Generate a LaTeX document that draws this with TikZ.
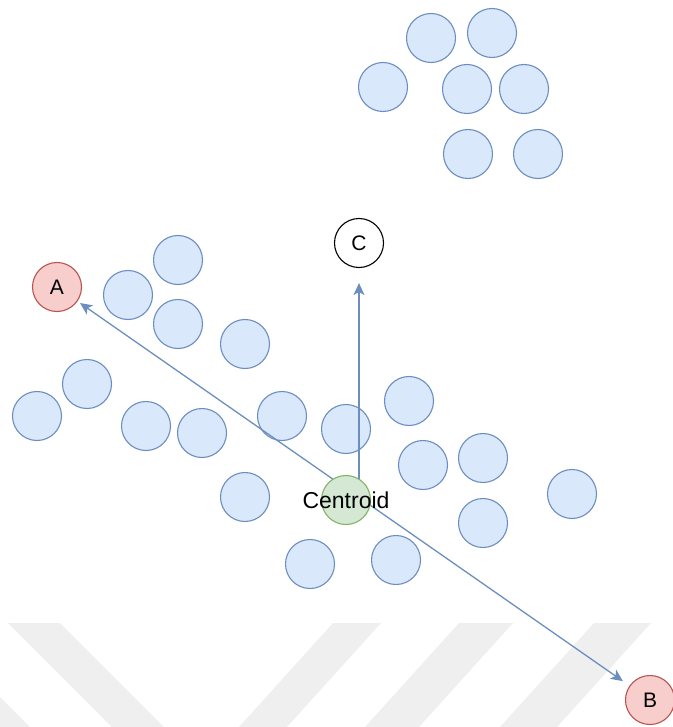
\documentclass[tikz,border=0pt]{standalone}
\usepackage{fontspec}
\setmainfont{Liberation Sans}
\usepackage{tikz}
\usetikzlibrary{arrows.meta}
\definecolor{DotFill}{HTML}{DAE8FC}
\definecolor{DotLine}{HTML}{6C8EBF}
\definecolor{EndFill}{HTML}{F8CECC}
\definecolor{EndLine}{HTML}{B85450}
\definecolor{CenFill}{HTML}{D5E8D4}
\definecolor{CenLine}{HTML}{82B366}
\definecolor{MarkGray}{HTML}{EFEFEF}
\pgfdeclarelayer{front}
\pgfsetlayers{main,front}

\begin{document}
\begin{tikzpicture}[
 x=1pt,y=-1pt,
 >={Stealth[length=12pt,width=11pt,inset=3pt]},
 blob/.style={circle,draw=DotLine,fill=DotFill,line width=1.1pt,minimum size=49pt,inner sep=0pt},
 endpt/.style={blob,draw=EndLine,fill=EndFill,font=\fontsize{21}{24}\selectfont},
 aim/.style={blob,draw=black,fill=white,font=\fontsize{21}{24}\selectfont},
 midpt/.style={blob,draw=CenLine,fill=CenFill},
 arrow/.style={->,line width=1.3pt,color=DotLine}
]
\useasboundingbox (0,0) rectangle (672,727);
\fill[MarkGray] (8,623) -- (60,623) -- (164,727) -- (112,727) -- cycle;
\fill[MarkGray] (0,697) -- (30,727) -- (0,727) -- cycle;
\fill[MarkGray] (333,623) -- (381,623) -- (287,727) -- (239,727) -- cycle;
\fill[MarkGray] (459,623) -- (513,623) -- (419,727) -- (365,727) -- cycle;
\fill[MarkGray] (594,623) -- (651,623) -- (557,727) -- (500,727) -- cycle;
\node[blob] (t1) at (431,38) {}; \node[blob] (t2) at (492,33) {}; \node[blob] (t3) at (383,87) {};
\node[blob] (t4) at (467,89) {}; \node[blob] (t5) at (524,89) {};
\node[blob] (t6) at (468,154) {}; \node[blob] (t7) at (538,154) {};
\node[blob] (p1) at (178,260) {}; \node[blob] (p2) at (128,295) {}; \node[blob] (p3) at (178,324) {};
\node[blob] (p4) at (245,344) {}; \node[blob] (p5) at (87,384) {}; \node[blob] (p6) at (37,416) {};
\node[blob] (p7) at (146,426) {}; \node[blob] (p8) at (202,433) {}; \node[blob] (p9) at (282,416) {};
\node[blob] (p10) at (346,429) {}; \node[blob] (p11) at (409,401) {}; \node[blob] (p12) at (423,465) {};
\node[blob] (p13) at (483,458) {}; \node[blob] (p14) at (483,523) {}; \node[blob] (p15) at (572,494) {};
\node[blob] (p16) at (245,497) {}; \node[blob] (p17) at (310,564) {}; \node[blob] (p18) at (396,560) {};
\node[endpt] (a) at (57,287) {A};
\node[endpt] (b) at (650,700) {B};
\node[aim] (c) at (359,243) {C};
\begin{pgfonlayer}{front}
\node[midpt,label={[font=\fontsize{23}{26}\selectfont]center:Centroid}] (cen) at (346,500) {};
\end{pgfonlayer}
\coordinate (ctip) at ([yshift=-15pt]c.south);
\draw[arrow] (cen.center -| c) -- (ctip);
\draw[arrow,<->,shorten >=8pt,shorten <=3pt] (a) -- (b);
\end{tikzpicture}
\end{document}
